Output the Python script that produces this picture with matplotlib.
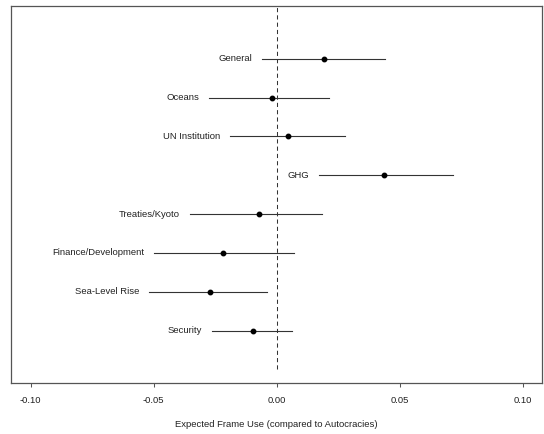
import matplotlib.pyplot as plt
import numpy as np

plt.rcParams['font.family'] = ['Liberation Sans', 'DejaVu Sans']

# Frames, top to bottom
frames = ['General', 'Oceans', 'UN Institution', 'GHG', 'Treaties/Kyoto',
          'Finance/Development', 'Sea-Level Rise', 'Security']
estimates = [0.0193, -0.0019, 0.0046, 0.0437, -0.0072, -0.0220, -0.0269, -0.0098]
lower = [-0.0058, -0.0274, -0.0190, 0.0171, -0.0354, -0.0497, -0.0518, -0.0263]
upper = [0.0440, 0.0214, 0.0279, 0.0716, 0.0183, 0.0069, -0.0039, 0.0061]

xticks = [-0.10, -0.05, 0.00, 0.05, 0.10]
xtick_labels = ['-0.10', '-0.05', '0.00', '0.05', '0.10']

fig = plt.figure(figsize=(5.44, 4.34), dpi=100)
ax = fig.add_axes([0.0202, 0.1168, 0.9767, 0.8694])

n = len(frames)
ypos = np.arange(n, 0, -1)

ax.plot([0, 0], [0, n + 2], color='#333333', lw=0.75, linestyle=(0, (4, 3)), zorder=1)

for y, lab, est, lo, hi in zip(ypos, frames, estimates, lower, upper):
    ax.plot([lo, hi], [y, y], color='#333333', lw=0.8, zorder=2)
    ax.plot(est, y, 'o', color='black', markersize=3.2, zorder=3)
    ax.annotate(lab, xy=(lo, y), xytext=(-7, 0), textcoords='offset points',
                ha='right', va='center', fontsize=6.8, color='#222222')

ax.set_xlim(-0.108, 0.108)
ax.set_ylim(-0.36, 9.36)
ax.set_yticks([])
ax.set_xticks(xticks)
ax.set_xticklabels(xtick_labels)
ax.tick_params(axis='x', length=3.2, width=0.75, color='#555555', pad=6,
               labelsize=6.8, labelcolor='#222222')

for s in ax.spines.values():
    s.set_color('#555555')
    s.set_linewidth(0.9)

ax.set_xlabel('Expected Frame Use (compared to Autocracies)', fontsize=6.8,
              color='#222222', va='center')
ax.xaxis.set_label_coords(0.5, -0.108)

fig.savefig('out.png', dpi=100)
